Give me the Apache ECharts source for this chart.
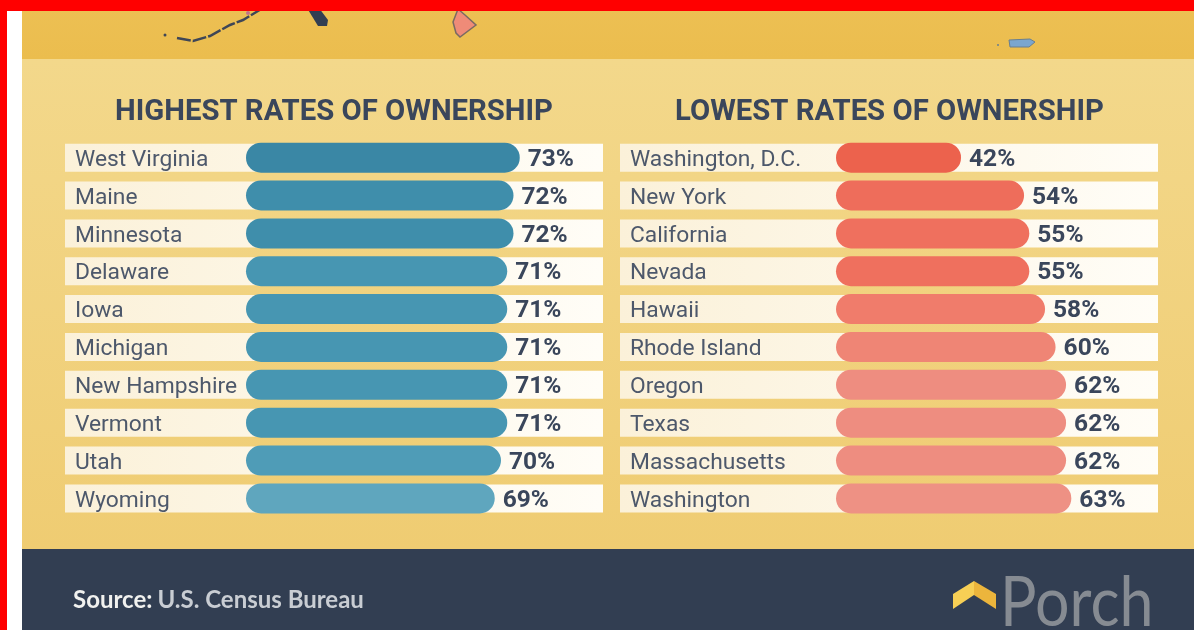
<!DOCTYPE html>
<html lang="en">
<head>
  <meta charset="UTF-8">
  <title>Rates of ownership</title>
  <script src="https://cdn.jsdelivr.net/npm/echarts@6/dist/echarts.min.js"></script>
</head>
<style>
  html, body { margin: 0; padding: 0; background: #fff; }
  /* the source picture is a soft upscaled image */
  #main { width: 1194px; height: 630px; filter: blur(0.6px); }
  .frame { position: absolute; left: 0; top: 0; background: #FF0000; }
</style>
<body>
  <div id="main"></div>
  <div class="frame" style="width:1194px;height:11px"></div>
  <div class="frame" style="width:7px;height:630px"></div>

  <script>
    // data
    var highStates = ['West Virginia', 'Maine', 'Minnesota', 'Delaware', 'Iowa', 'Michigan', 'New Hampshire', 'Vermont', 'Utah', 'Wyoming'];
    var highRates = [73, 72, 72, 71, 71, 71, 71, 71, 70, 69];
    var lowStates = ['Washington, D.C.', 'New York', 'California', 'Nevada', 'Hawaii', 'Rhode Island', 'Oregon', 'Texas', 'Massachusetts', 'Washington'];
    var lowRates = [42, 54, 55, 55, 58, 60, 62, 62, 62, 63];

    // bar colour per rate
    var highColors = { 73: '#3A87A5', 72: '#3F8EAB', 71: '#4796B2', 70: '#4F9CB7', 69: '#5FA6BE' };
    var lowColors = { 42: '#EC624D', 54: '#EE6D5B', 55: '#EF705E', 58: '#F07C6B', 60: '#EF8575', 62: '#EE8D80', 63: '#EE9184' };

    var myChart = echarts.init(document.getElementById('main'));

    var ink = '#3A465B';
    var textFont = 'Roboto';
    var rowsTop = 138.7, rowsHeight = 378.7;

    // the pale strip behind each row
    function stripSeries(grid, names) {
      return {
        type: 'bar', xAxisIndex: grid, yAxisIndex: grid, silent: true, barWidth: 28, z: 1,
        data: names.map(function () { return 1; }),
        itemStyle: {
          color: new echarts.graphic.LinearGradient(0, 0, 1, 0, [
            { offset: 0, color: '#FBF1D9' }, { offset: 1, color: '#FFFDF7' }
          ])
        }
      };
    }

    function barSeries(grid, values, colors) {
      return {
        type: 'bar', xAxisIndex: grid, yAxisIndex: grid, barWidth: 30, silent: true,
        data: values,
        itemStyle: {
          borderRadius: 15,
          color: function (p) { return colors[p.value]; }
        },
        label: {
          show: true, position: 'right', distance: 8, offset: [0, 2], formatter: '{c}%',
          color: ink, fontFamily: textFont, fontWeight: 'bold', fontSize: 24.5
        }
      };
    }

    function stripAxisX(grid) { return { gridIndex: grid, type: 'value', min: 0, max: 1, show: false }; }
    function stripAxisY(grid, names) { return { gridIndex: grid, type: 'category', inverse: true, data: names, show: false }; }

    function barAxisY(grid, names, margin) {
      return {
        gridIndex: grid, type: 'category', inverse: true, data: names, z: 5,
        axisLine: { show: false }, axisTick: { show: false },
        axisLabel: {
          align: 'left', margin: margin, formatter: '{n|{value}}',
          rich: { n: { padding: [5, 0, 0, 0], color: '#4D586B', fontFamily: textFont, fontSize: 22.8 } }
        }
      };
    }

    option = {
      animation: false,
      title: [
        { text: 'HIGHEST RATES OF OWNERSHIP', left: 329, top: 93, textAlign: 'center',
          textStyle: { color: ink, fontFamily: textFont, fontWeight: 'bold', fontSize: 29.3 } },
        { text: 'LOWEST RATES OF OWNERSHIP', left: 884.5, top: 93, textAlign: 'center',
          textStyle: { color: ink, fontFamily: textFont, fontWeight: 'bold', fontSize: 29.3 } },
        { text: '{b|Source:} {r|U.S. Census Bureau}', left: 68, top: 583,
          textStyle: { rich: {
            b: { color: '#F1F1EF', fontFamily: 'Lato', fontWeight: 'bold', fontSize: 24 },
            r: { color: '#C9CDD3', fontFamily: 'Lato', fontSize: 24 }
          } } }
      ],
      grid: [
        { left: 65, width: 538, top: rowsTop, height: rowsHeight },
        { left: 620, width: 538, top: rowsTop, height: rowsHeight },
        { left: 246, width: 357, top: rowsTop, height: rowsHeight },
        { left: 836, width: 322, top: rowsTop, height: rowsHeight }
      ],
      // value axes cut short like the original: bars start well above zero
      xAxis: [
        stripAxisX(0),
        stripAxisX(1),
        { gridIndex: 2, type: 'value', min: 29.2, max: 86.32, show: false },
        { gridIndex: 3, type: 'value', min: 18.2, max: 79.5, show: false }
      ],
      yAxis: [
        stripAxisY(0, highStates),
        stripAxisY(1, lowStates),
        barAxisY(2, highStates, 171),
        barAxisY(3, lowStates, 206)
      ],
      series: [
        stripSeries(0, highStates),
        stripSeries(1, lowStates),
        barSeries(2, highRates, highColors),
        barSeries(3, lowRates, lowColors)
      ],
      graphic: [
        // top band, panel, footer
        { type: 'rect', z: -10, shape: { x: 22, y: 0, width: 1172, height: 59 },
          style: { fill: new echarts.graphic.LinearGradient(0, 0, 0, 1, [{ offset: 0, color: '#EDC054' }, { offset: 1, color: '#EBBD4E' }]) } },
        { type: 'rect', z: -10, shape: { x: 22, y: 59, width: 1172, height: 490 },
          style: { fill: new echarts.graphic.LinearGradient(0, 0, 0, 1, [{ offset: 0, color: '#F3D88B' }, { offset: 1, color: '#EFCC72' }]) } },
        { type: 'rect', z: -10, shape: { x: 22, y: 549, width: 1172, height: 81 }, style: { fill: '#323E52' } },
        // bits of the map cut off at the top
        { type: 'polyline', z: -5, shape: { points: [[177, 38], [193, 41], [210, 36], [230, 25], [243, 20], [263, 8]] },
          style: { stroke: '#3F4656', lineWidth: 2.5, fill: null, lineDash: [14, 2] } },
        { type: 'circle', z: -5, shape: { cx: 165, cy: 35, r: 1.5 }, style: { fill: '#3F4656' } },
        { type: 'circle', z: -5, shape: { cx: 248, cy: 13, r: 2 }, style: { fill: '#C0728A' } },
        { type: 'polygon', z: -5, shape: { points: [[307, 8], [319, 8], [328, 20], [327, 26], [318, 26]] }, style: { fill: '#323E52' } },
        { type: 'polygon', z: -5, shape: { points: [[458, 9], [465, 15], [476, 25], [460, 37], [456, 33], [453, 22]] },
          style: { fill: '#EF8B78', stroke: '#7A6A62', lineWidth: 1.5 } },
        { type: 'polygon', z: -5, shape: { points: [[1009, 40], [1030, 39], [1035, 42], [1029, 47], [1010, 47]] },
          style: { fill: '#7BA6CE', stroke: '#6A7F8E', lineWidth: 1 } },
        { type: 'circle', z: -5, shape: { cx: 998, cy: 45, r: 1 }, style: { fill: '#6A7F8E' } },
        // Porch logo
        { type: 'polygon', z: -5, shape: { points: [[953, 594], [974, 581], [974, 595], [953, 609]] }, style: { fill: '#F7CF55' } },
        { type: 'polygon', z: -5, shape: { points: [[974, 581], [996, 594], [996, 609], [974, 595]] }, style: { fill: '#ECB53C' } },
        { type: 'text', z: -5, x: 1000, y: 568, scaleX: 0.87,
          style: { text: 'Porch', fill: '#868B92', font: '400 70px Lato' } }
      ]
    };

    myChart.setOption(option);
  </script>
</body>
</html>
